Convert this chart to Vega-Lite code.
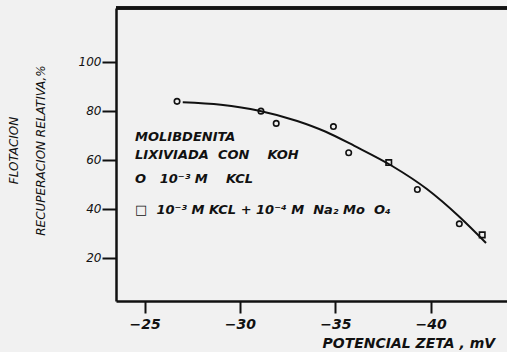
{
  "$schema": "https://vega.github.io/schema/vega-lite/v6.json",
  "autosize": {"type": "none"},
  "padding": {"left": 116, "top": 8, "right": 0, "bottom": 51},
  "width": 391,
  "height": 293,
  "background": "#f1f1f1",
  "config": {
    "view": {"stroke": null},
    "font": "DejaVu Sans"
  },
  "datasets": {
    "pts": [
      {"zeta": -26.7, "rec": 83.8, "serie": "KCL"},
      {"zeta": -31.1, "rec": 79.8, "serie": "KCL"},
      {"zeta": -31.9, "rec": 74.8, "serie": "KCL"},
      {"zeta": -34.9, "rec": 73.5, "serie": "KCL"},
      {"zeta": -35.7, "rec": 62.8, "serie": "KCL"},
      {"zeta": -37.8, "rec": 58.8, "serie": "KCL+Na2MoO4"},
      {"zeta": -39.3, "rec": 47.8, "serie": "KCL"},
      {"zeta": -41.5, "rec": 33.8, "serie": "KCL"},
      {"zeta": -42.7, "rec": 29.3, "serie": "KCL+Na2MoO4"}
    ],
    "curve": [
      {"zeta": -27.0, "rec": 83.4},
      {"zeta": -29.0, "rec": 82.4},
      {"zeta": -31.0, "rec": 80.0},
      {"zeta": -33.0, "rec": 75.8},
      {"zeta": -34.5, "rec": 71.4},
      {"zeta": -36.0, "rec": 65.6},
      {"zeta": -38.0, "rec": 57.3},
      {"zeta": -39.8, "rec": 48.0},
      {"zeta": -41.5, "rec": 36.7},
      {"zeta": -42.9, "rec": 26.0}
    ],
    "notes": [
      {"zeta": -24.5, "rec": 69.4, "txt": "MOLIBDENITA"},
      {"zeta": -24.5, "rec": 61.7, "txt": "LIXIVIADA\u00a0\u00a0CON\u00a0\u00a0\u00a0\u00a0KOH"},
      {"zeta": -24.5, "rec": 52.1, "txt": "O\u00a0\u00a0\u00a010⁻³\u00a0M\u00a0\u00a0\u00a0\u00a0KCL"},
      {"zeta": -24.5, "rec": 39.5, "txt": "□\u00a0\u00a010⁻³\u00a0M\u00a0KCL\u00a0+\u00a010⁻⁴\u00a0M\u00a0\u00a0Na₂\u00a0Mo\u00a0\u00a0O₄"}
    ]
  },
  "layer": [
    {
      "data": {"name": "curve"},
      "mark": {"type": "line", "color": "#111", "strokeWidth": 2, "interpolate": "monotone"},
      "encoding": {
        "x": {
          "field": "zeta", "type": "quantitative",
          "scale": {"domain": [-23.5, -44], "nice": false, "zero": false},
          "axis": {
            "values": [-25, -30, -35, -40],
            "labelExpr": "'−' + abs(datum.value)",
            "grid": false,
            "domainColor": "#111", "domainWidth": 2.5,
            "tickColor": "#111", "tickWidth": 2, "tickSize": 12,
            "labelFont": "DejaVu Sans", "labelFontStyle": "italic", "labelFontWeight": "bold", "labelFontSize": 14,
            "labelColor": "#111", "labelPadding": 4,
            "title": "POTENCIAL ZETA , mV",
            "titleFont": "DejaVu Sans", "titleFontStyle": "italic", "titleFontWeight": "bold",
            "titleFontSize": 14, "titleColor": "#111",
            "titleX": 206, "titleY": 42, "titleAlign": "left", "titleBaseline": "middle"
          }
        },
        "y": {
          "field": "rec", "type": "quantitative",
          "scale": {"domain": [2.3, 121.9], "nice": false, "zero": false},
          "axis": {
            "values": [20, 40, 60, 80, 100],
            "grid": false,
            "domainColor": "#111", "domainWidth": 2.5,
            "tickColor": "#111", "tickWidth": 2, "tickSize": 14,
            "labelFont": "DejaVu Sans", "labelFontStyle": "italic", "labelFontSize": 12,
            "labelColor": "#111", "labelPadding": 1,
            "title": ["FLOTACION", "RECUPERACION  RELATIVA,%"],
            "titleFont": "DejaVu Sans", "titleFontStyle": "italic", "titleFontWeight": "normal",
            "titleFontSize": 12, "titleColor": "#111", "titleLineHeight": 27,
            "titleAngle": -90, "titleX": -103, "titleY": 142, "titleAlign": "center", "titleBaseline": "middle"
          }
        }
      }
    },
    {
      "data": {"name": "curve"},
      "mark": {"type": "rule", "color": "#111", "strokeWidth": 2.5},
      "encoding": {
        "y": {"datum": 121.9, "type": "quantitative"}
      }
    },
    {
      "data": {"name": "pts"},
      "mark": {"type": "point", "filled": false, "color": "#111", "strokeWidth": 1.6, "size": 30, "opacity": 1},
      "encoding": {
        "x": {"field": "zeta", "type": "quantitative"},
        "y": {"field": "rec", "type": "quantitative"},
        "shape": {
          "field": "serie", "type": "nominal",
          "scale": {"domain": ["KCL", "KCL+Na2MoO4"], "range": ["circle", "square"]},
          "legend": null
        }
      }
    },
    {
      "data": {"name": "notes"},
      "mark": {"type": "text", "align": "left", "baseline": "middle", "font": "DejaVu Sans", "fontStyle": "italic", "fontWeight": "bold", "fontSize": 13, "color": "#111"},
      "encoding": {
        "x": {"field": "zeta", "type": "quantitative"},
        "y": {"field": "rec", "type": "quantitative"},
        "text": {"field": "txt"}
      }
    }
  ]
}
